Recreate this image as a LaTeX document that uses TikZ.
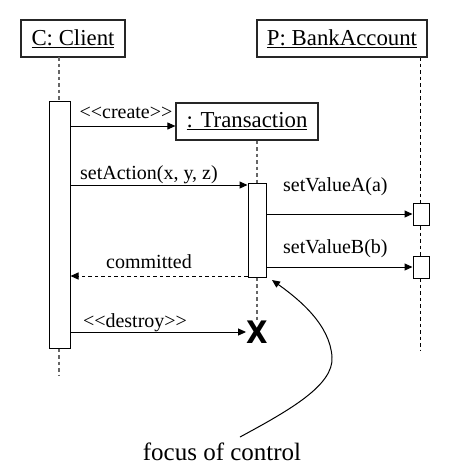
\documentclass[tikz,border=0pt]{standalone}
\usepackage{fontspec}
\setmainfont{Liberation Serif}[Ligatures=TeXOff]
\setsansfont{Liberation Sans}
\newfontfamily\xfont{DejaVu Sans}
\usetikzlibrary{arrows.meta,calc}
\begin{document}
\begin{tikzpicture}[x=1pt,y=-1pt,
 obj/.style={draw=black!85,line width=1.2pt,fill=white,inner sep=0,minimum height=37pt,font=\fontsize{22.8}{26}\selectfont},
 bar/.style={draw,line width=1pt,fill=white,inner sep=0},
 lifeg/.style={dash pattern=on 3.5pt off 3pt,line width=1.2pt,draw=black!60},
 lifek/.style={dash pattern=on 3.5pt off 3pt,line width=1pt,draw=black},
 msg/.style={line width=1pt,-{Triangle[length=8pt,width=7pt]}},
 rmsg/.style={msg,dash pattern=on 3.5pt off 3pt},
 lbl/.style={inner sep=0,font=\fontsize{20}{24}\selectfont},
]
\useasboundingbox (0,0) rectangle (462,475);
% lifelines anchors
\coordinate (cltop) at (59,57);
\coordinate (clbot) at (59,375);
\coordinate (batop) at (420,57);
\coordinate (babot) at (420,350);
% BankAccount lifeline first
\draw[lifek] (batop) -- (babot);
% objects
\node[obj,minimum width=104pt] (cl) at (73,38.5) {\underline{C: Client}};
\node[obj,minimum width=170pt] (ba) at (342,38.5) {\underline{P: BankAccount}};
\node[obj,minimum width=142pt] (tr) at (247,121.5) {\underline{: Transaction}};
% activation bars
\node[bar,minimum width=21pt,minimum height=247pt] (ca) at (59.5,224.5) {};
\node[bar,minimum width=18pt,minimum height=94pt] (ta) at (257,230) {};
\node[bar,minimum width=16pt,minimum height=22pt] (bA) at (421,214) {};
\node[bar,minimum width=16pt,minimum height=22pt] (bB) at (421,267) {};
% destroy mark
\node[inner sep=0,xscale=0.9,font=\xfont\bfseries\fontsize{31}{31}\selectfont] (xx) at (257,332) {X};
% lifelines
\draw[lifeg] (cltop) -- (ca.north -| cltop);
\draw[lifeg] (ca.south -| clbot) -- (clbot);
\draw[lifeg] (tr.south -| ta.north) -- (ta.north);
\draw[lifeg] (ta.south) -- (xx.north);
% messages
\draw[msg] (ca.east |- 0,126) -- (tr.west |- 0,126);
\node[lbl,anchor=base] (lcreate) at (126,118) {<\kern0pt<create>\kern0pt>};
\draw[msg] (ca.east |- 0,185) -- (ta.west |- 0,185);
\node[lbl,anchor=base west] (lset) at (80,179) {setAction(x, y, z)};
\draw[msg] (ta.east |- bA.west) -- (bA.west);
\node[lbl,anchor=base west] (lva) at (283,191) {setValueA(a)};
\draw[msg] (ta.east |- bB.west) -- (bB.west);
\node[lbl,anchor=base west] (lvb) at (283,253) {setValueB(b)};
\draw[rmsg] (ta.west |- 0,276) -- (ca.east |- 0,276);
\node[lbl,anchor=base] (lcom) at (149,268) {committed};
\draw[msg] (ca.east |- xx.west) -- (xx.west);
\node[lbl,anchor=base] (ldes) at (135,327) {<\kern0pt<destroy>\kern0pt>};
% focus of control
\node[inner sep=0,anchor=base,font=\fontsize{25}{30}\selectfont] (foc) at (222,460) {focus of control};
\coordinate (fs) at (240,437);
\draw[line width=1pt,-{Triangle[length=8pt,width=7pt]}] (fs) .. controls (290,410) and (334,385) .. (332,357) .. controls (330,325) and (300,300) .. (272,280);
\end{tikzpicture}
\end{document}
